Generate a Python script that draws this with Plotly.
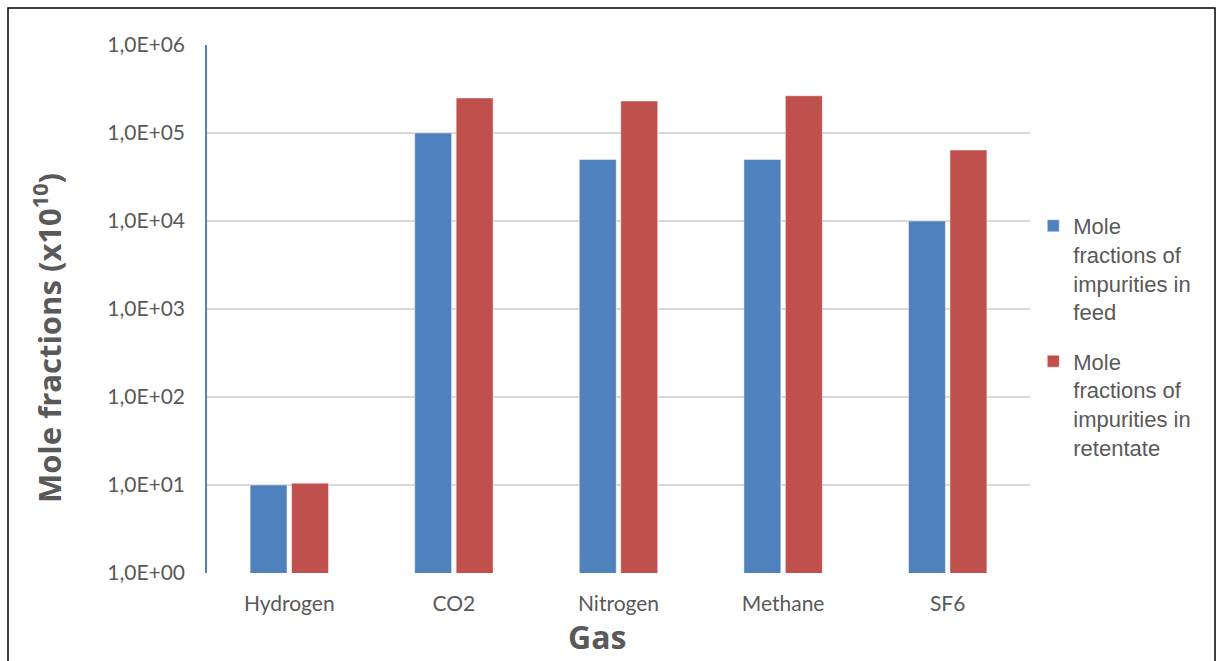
import plotly.graph_objects as go

gases = ["Hydrogen", "CO2", "Nitrogen", "Methane", "SF6"]
feed = [10, 100000, 50000, 50000, 10000]
retentate = [10.5, 250000, 231000, 265000, 64000]

tick_vals = [1, 10, 100, 1000, 10000, 100000, 1000000]
tick_text = ["1,0E+00", "1,0E+01", "1,0E+02", "1,0E+03", "1,0E+04", "1,0E+05", "1,0E+06"]

feed_name = "Mole<br>fractions of<br>impurities in<br>feed"
ret_name = "Mole<br>fractions of<br>impurities in<br>retentate"

TEXT = "#595959"
BLUE = "#4F81BD"
RED = "#C0504D"
TITLE_FONT = dict(size=32, color=TEXT, family="Open Sans, Liberation Sans, sans-serif")

fig = go.Figure()
fig.add_trace(go.Bar(x=gases, y=feed, name=feed_name, legendgroup="feed",
                     marker=dict(color=BLUE, line=dict(color="rgba(255,255,255,0.45)", width=1))))
fig.add_trace(go.Bar(x=gases, y=retentate, name=ret_name, legendgroup="retentate",
                     marker=dict(color=RED, line=dict(color="rgba(255,255,255,0.45)", width=1))))

fig.update_layout(
    width=1218, height=661,
    margin=dict(l=207, r=188, t=45, b=88),
    paper_bgcolor="white", plot_bgcolor="white",
    barmode="group", bargap=0.496, bargroupgap=0.11,
    font=dict(family="Lato, Open Sans, sans-serif", color=TEXT),
    legend=dict(
        x=1.004, y=0.697, xanchor="left", yanchor="top",
        font=dict(family="Liberation Sans, Arial, sans-serif", size=22, color=TEXT),
        valign="top", tracegroupgap=18, itemwidth=30,
        bgcolor="rgba(0,0,0,0)",
    ),
    xaxis=dict(
        tickfont=dict(size=21, color=TEXT),
        showline=False, ticks="", showgrid=False, ticklabelstandoff=16,
    ),
    yaxis=dict(
        type="log", range=[0, 6],
        tickvals=tick_vals, ticktext=tick_text,
        tickfont=dict(size=21, color=TEXT),
        showgrid=True, gridcolor="#D9D9D9", gridwidth=1.5,
        showline=True, linecolor=BLUE, linewidth=1.5,
        zeroline=False, ticks="", ticklabelstandoff=16,
    ),
    showlegend=True,
)

# Axis titles
fig.add_annotation(text="<b>Gas</b>", xref="paper", yref="paper", x=0.474, y=-0.121,
                   xanchor="center", yanchor="middle", showarrow=False, font=TITLE_FONT)
fig.add_annotation(text="<b>Mole fractions (x10<sup>10</sup>)</b>", xref="paper", yref="paper",
                   x=-0.1944, y=0.445, xanchor="center", yanchor="middle", textangle=-90,
                   showarrow=False, font=dict(TITLE_FONT, size=31))

# Outer frame of the chart area
fig.add_shape(type="rect", xref="paper", yref="paper",
              x0=-0.2418, x1=1.2248, y0=-0.18, y1=1.070,
              line=dict(color="black", width=1.5), fillcolor="rgba(0,0,0,0)", layer="below")

fig.write_html("out.html")
